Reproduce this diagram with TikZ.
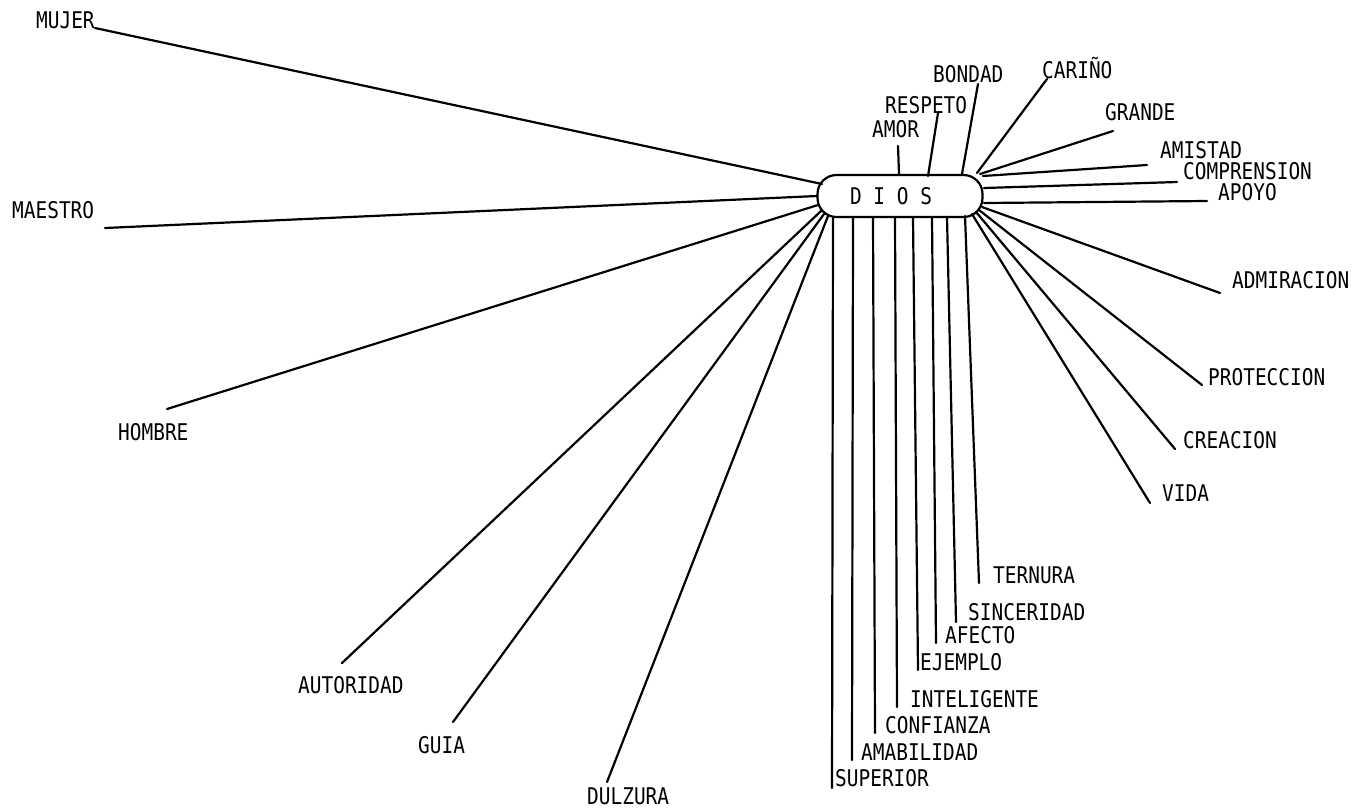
\documentclass[tikz,border=0pt]{standalone}
\usepackage{fontspec}
\newfontfamily\labfont[FakeStretch=0.845]{DejaVu Sans Mono}
\begin{document}
\begin{tikzpicture}[x=1pt,y=-1pt,
  lab/.style={font=\labfont\fontsize{23}{25}\selectfont, inner sep=0pt, anchor=base west},
  conn/.style={line width=2.2pt, line cap=round},
  godbox/.style={draw, line width=2.2pt, rounded corners=19pt, fill=white,
    minimum width=165pt, minimum height=42pt, inner sep=0pt,
    font=\labfont\fontsize{23}{25}\selectfont}]
\useasboundingbox (0,0) rectangle (1354,807);
\node[godbox] (dios) at (900,196) {D I O S\hspace*{18pt}};
\foreach \nm/\lx/\ly/\txt/\ox/\oy/\ix/\iy in {
  mujer/36/28/MUJER/95/28/-78/-12,
  maestro/12/218/MAESTRO/105/228/-83/0,
  hombre/118/440/HOMBRE/167/409/-82/9,
  autoridad/298/693/AUTORIDAD/342/663/-79/15,
  guia/418/753/GUIA/453/722/-76/18,
  dulzura/587/804/DULZURA/607/782/-72/20,
  superior/835/786/SUPERIOR/832/788/-67/22,
  amabilidad/861/760/AMABILIDAD/852/760/-47/22,
  confianza/885/733/CONFIANZA/875/733/-27/22,
  inteligente/910/707/INTELIGENTE/897/707/-5/22,
  ejemplo/920/670/EJEMPLO/918/670/13/22,
  afecto/945/643/AFECTO/936/643/32/22,
  sinceridad/968/620/SINCERIDAD/956/622/47/21,
  ternura/993/583/TERNURA/979/583/65/20,
  amor/872/137/AMOR/898/146/-1/-22,
  respeto/885/113/RESPETO/938/113/28/-20,
  bondad/933/82/BONDAD/978/84/62/-22,
  carino/1042/78/CARIÑO/1047/79/77/-23,
  grande/1105/120/GRANDE/1113/131/80/-22,
  amistad/1160/158/AMISTAD/1147/165/83/-20,
  comprension/1183/179/COMPRENSION/1177/182/84/-8,
  apoyo/1218/200/APOYO/1207/201/84/7,
  admiracion/1232/288/ADMIRACION/1220/293/82/11,
  proteccion/1208/385/PROTECCION/1202/385/79/14,
  creacion/1183/448/CREACION/1175/449/76/16,
  vida/1162/501/VIDA/1150/503/72/18}{
  \node[lab] (\nm) at (\lx,\ly) {\txt};
  \coordinate (\nm-end) at (\ox,\oy);
  \draw[conn] (\nm-end) -- ([shift={(\ix,\iy)}]dios.center);
}
\end{tikzpicture}
\end{document}
